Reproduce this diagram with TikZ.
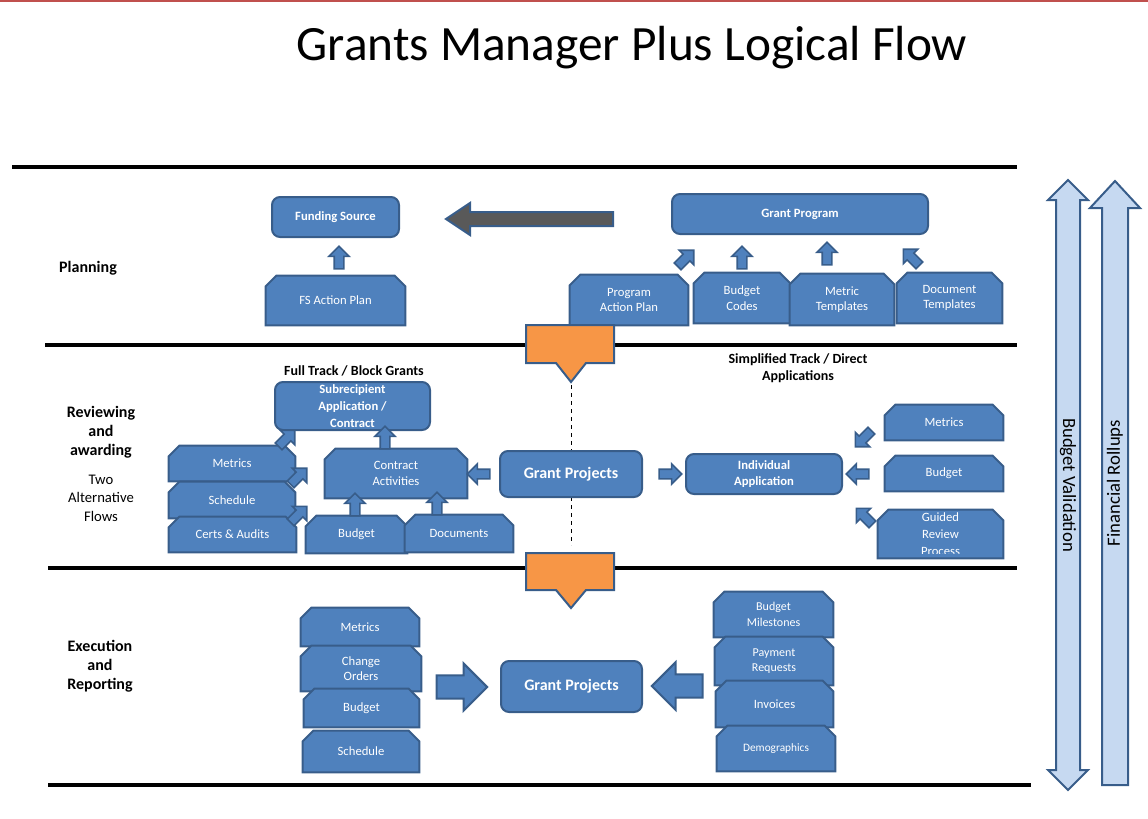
\documentclass[tikz,border=0pt]{standalone}
\usepackage{fontspec}
\setmainfont{Carlito}
\usetikzlibrary{shapes.misc,shapes.arrows,fit}
\definecolor{bfill}{HTML}{4F81BD}
\definecolor{bdraw}{HTML}{385D8A}
\definecolor{lblue}{HTML}{C6D9F1}
\definecolor{orng}{HTML}{F79646}
\definecolor{rl}{HTML}{C0504D}
\begin{document}
\begin{tikzpicture}[x=0.75pt,y=-0.75pt,
 rbox/.style={rounded corners=6pt,fill=bfill,draw=bdraw,line width=1.5pt,inner sep=0pt,text=white,font=\bfseries\fontsize{9.5}{11}\selectfont,align=center},
 cbox/.style={chamfered rectangle,chamfered rectangle corners={north east,north west},chamfered rectangle xsep=4pt,chamfered rectangle ysep=4pt,fill=bfill,draw=bdraw,line width=1.5pt,inner sep=0pt,text=white,font=\fontsize{9.5}{11}\selectfont,align=center},
 sarr/.style={single arrow,fill=bfill,draw=bdraw,line width=1.2pt,inner sep=3pt,single arrow head extend=4pt,minimum height=17pt},
 barr/.style={single arrow,fill=bfill,draw=bdraw,line width=1.5pt,inner sep=8pt,single arrow head extend=9pt,minimum height=38pt},
 sep/.style={line width=3pt},
 lab/.style={font=\bfseries\fontsize{12}{14}\selectfont,align=center}]
\useasboundingbox (0,0) rectangle (1148,818);
\draw[rl,line width=1pt] (0,1) -- (1148,1);
\node[font=\fontsize{37}{40}\selectfont] (title) at (632,48) {Grants Manager Plus Logical Flow};
% separators
\draw[sep] (12,167) -- (1017,167);
\draw[sep] (45,345) -- (1017,345);
\draw[sep] (48,568) -- (1017,568);
\draw[sep] (48,785) -- (1031,785);
% section labels
\node[lab] (plan) at (88,268) {Planning};
\node[lab,anchor=north] (rev) at (101,402) {Reviewing\\and\\awarding};
\node[font=\fontsize{11}{14}\selectfont,align=center,anchor=north] (two) at (101,470) {Two\\Alternative\\Flows};
\node[lab,anchor=north] (exe) at (100,636) {Execution\\and\\Reporting};
\node[lab,font=\bfseries\fontsize{10.5}{12}\selectfont] (full) at (354,371) {Full Track / Block Grants};
\node[lab,font=\bfseries\fontsize{10.5}{13}\selectfont] (simp) at (798,368) {Simplified Track / Direct\\Applications};
% planning
\node[rbox,fit={(272,197)(399,237)}] (fs) {};
\node[text=white,font=\bfseries\fontsize{9.5}{11}\selectfont] at (fs.center) {Funding Source};
\node[rbox,fit={(672,194)(928,234)}] (gp) {};
\node[text=white,font=\bfseries\fontsize{9.5}{11}\selectfont] at (gp.center) {Grant Program};
\node[cbox,fit={(271,281)(400,320)}] (fsap) {};
\node[text=white,font=\fontsize{9.5}{11}\selectfont] at (fsap.center) {FS Action Plan};
\node[cbox,fit={(575,280)(683,320)}] (pap) {};
\node[text=white,align=center,font=\fontsize{9.5}{11.5}\selectfont] at (pap.center) {Program\\Action Plan};
\node[cbox,fit={(699,278)(785,318)}] (bc) {};
\node[text=white,align=center,font=\fontsize{9.5}{11.5}\selectfont] at (bc.center) {Budget\\Codes};
\node[cbox,fit={(795,279)(889,320)}] (mt) {};
\node[text=white,align=center,font=\fontsize{9.5}{11.5}\selectfont] at (mt.center) {Metric\\Templates};
\node[cbox,fit={(902,278)(997,318)}] (dt) {};
\node[text=white,align=center,font=\fontsize{9.5}{11.5}\selectfont] at (dt.center) {Document\\Templates};
\node[sarr,rotate=90] (a1) at (339,260) {};
\node[sarr,rotate=45] (a2) at (684,260) {};
\node[sarr,rotate=90] (a3) at (742,260) {};
\node[sarr,rotate=90] (a4) at (827,256) {};
\node[sarr,rotate=135] (a5) at (913,259) {};
% gray arrow
\draw[fill=black!65,draw=bdraw,line width=1.5pt] (613,212) -- (470,212) -- (470,203) -- (446,219) -- (470,235) -- (470,226) -- (613,226) -- cycle;
% orange arrows
\draw[fill=orng,draw=bdraw,line width=1.5pt] (526,325) -- (614,325) -- (614,363) -- (586,363) -- (571,382) -- (556,363) -- (526,363) -- cycle;
\draw[fill=orng,draw=bdraw,line width=1.5pt] (526,553) -- (614,553) -- (614,590) -- (586,590) -- (571,608) -- (556,590) -- (526,590) -- cycle;
\coordinate (d1) at (571,385); \coordinate (d2) at (571,545);
\draw[dashed,line width=0.6pt] (d1) -- (d2);
% reviewing
\node[rbox,fit={(275,382)(430,430)}] (sub) {};
\node[text=white,align=center,font=\bfseries\fontsize{9.5}{12.5}\selectfont] at (sub.center) {Subrecipient\\Application /\\Contract};
\node[rbox,fit={(500,451)(642,497)}] (gpm) {};
\node[text=white,font=\bfseries\fontsize{12}{14}\selectfont] at (gpm.center) {Grant Projects};
\node[rbox,fit={(686,454)(842,494)}] (ia) {};
\node[text=white,align=center,font=\bfseries\fontsize{9.5}{12}\selectfont] at (ia.center) {Individual\\Application};
\node[cbox,fit={(330,454)(462,493)}] (ca) {};
\node[text=white,align=center,font=\fontsize{9.5}{12}\selectfont] at (ca.center) {Contract\\Activities};
\newcommand{\cb}[4]{\node[cbox,fit={#2}] (#1) {}; \node[text=white,align=center,font=\fontsize{#4}{11.5}\selectfont] at (#1.center) {#3};}
\cb{m1}{(174,451)(290,476)}{Metrics}{9.5}
\cb{s1}{(174,487)(290,513)}{Schedule}{9.5}
\cb{ce}{(174,522)(291,547)}{Certs \& Audits}{9.5}
\cb{b1}{(311,521)(402,548)}{Budget}{9.5}
\cb{do}{(410,520)(508,547)}{Documents}{9.5}
\cb{m2}{(890,410)(998,435)}{Metrics}{9.5}
\cb{b2}{(890,461)(998,486)}{Budget}{9.5}
\node[cbox,fit={(883,515)(998,553)}] (gr) {};
\begin{scope}
\clip (883,512) rectangle (998,553);
\node[text=white,align=center,font=\fontsize{9.5}{13}\selectfont] at (gr.center) {Guided\\Review\\Process};
\end{scope}
\node[sarr,rotate=45] (r1) at (285,440) {};
\node[sarr,rotate=45] (r2) at (297,478) {};
\node[sarr,rotate=45] (r3) at (297,516) {};
\node[sarr,rotate=90] (r4) at (385,440) {};
\node[sarr,rotate=90] (r5) at (355,507) {};
\node[sarr,rotate=90] (r6) at (437,506) {};
\node[sarr,rotate=180] (r7) at (481,474) {};
\node[sarr] (r8) at (668,474) {};
\node[sarr,rotate=225] (r9) at (865,437) {};
\node[sarr,rotate=180] (r10) at (860,474) {};
\node[sarr,rotate=135] (r11) at (866,518) {};
% execution
\node[rbox,fit={(501,661)(642,712)}] (gpb) {};
\node[text=white,font=\bfseries\fontsize{12}{14}\selectfont] at (gpb.center) {Grant Projects};
\cb{m3}{(306,613)(414,641)}{Metrics}{9.5}
\cb{co}{(306,651)(416,686)}{Change\\Orders}{9.5}
\cb{b3}{(309,694)(414,722)}{Budget}{9.5}
\cb{s3}{(308,736)(414,767)}{Schedule}{9.5}
\cb{bm}{(719,597)(828,632)}{Budget\\Milestones}{9}
\cb{pr}{(720,642)(828,680)}{Payment\\Requests}{9}
\cb{inv}{(721,686)(828,722)}{Invoices}{9.5}
\cb{dem}{(722,731)(830,766)}{Demographics}{8.5}
\node[barr] (e1) at (456,687) {};
\node[barr,rotate=180] (e2) at (683,686) {};
% vertical arrows
\draw[fill=lblue,draw=bdraw,line width=1.5pt] (1068,180) -- (1088,200) -- (1080,200) -- (1080,770) -- (1088,770) -- (1068,790) -- (1048,770) -- (1056,770) -- (1056,200) -- (1048,200) -- cycle;
\draw[fill=lblue,draw=bdraw,line width=1.5pt] (1115,181) -- (1140,208) -- (1128,208) -- (1128,785) -- (1102,785) -- (1102,208) -- (1090,208) -- cycle;
\node[rotate=-90,font=\fontsize{14}{16}\selectfont] (bv) at (1068,485) {Budget Validation};
\node[rotate=90,font=\fontsize{14}{16}\selectfont] (fr) at (1115,483) {Financial Rollups};
\end{tikzpicture}
\end{document}
